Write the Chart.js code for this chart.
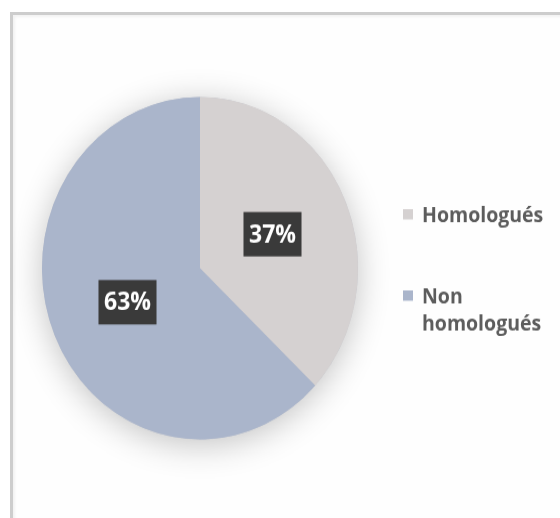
<!DOCTYPE html>
<html>
<head>
<meta charset="utf-8">
<script src="https://cdn.jsdelivr.net/npm/chart.js@4/dist/chart.umd.min.js"></script>
<style>
  html, body { margin: 0; padding: 0; background: #ffffff; }
  body { width: 560px; height: 518px; position: relative; overflow: hidden; }
  #frame {
    position: absolute; left: 10px; top: 12px; width: 600px; height: 560px;
    border-left: 3px solid #cdcdcd; border-top: 3px solid #cdcdcd;
    box-shadow: inset 2px 2px 3px rgba(0,0,0,0.05);
    background: #fefefe;
  }
  #chart { position: absolute; left: 0; top: 0; width: 560px; height: 518px; }
</style>
</head>
<body>
<div id="frame"></div>
<canvas id="chart" width="560" height="478" style="width:560px;height:518px"></canvas>
<script>
// Share of approved vs. non-approved items
const categories = [['Homologués'], ['Non', 'homologués']];
const shares = [37, 63];
const sliceColors = ['#d5d1d1', '#aab5cb'];

// Soft shadow under the whole pie
const pieShadow = {
  id: 'pieShadow',
  beforeDatasetsDraw(chart) {
    const arc = chart.getDatasetMeta(0).data[0];
    if (!arc) return;
    const { x, y, outerRadius } = arc.getProps(['x', 'y', 'outerRadius'], true);
    const ctx = chart.ctx;
    ctx.save();
    ctx.shadowColor = 'rgba(0,0,0,0.24)';
    ctx.shadowBlur = 32;
    ctx.shadowOffsetY = 5;
    ctx.beginPath();
    ctx.arc(x, y, outerRadius, 0, Math.PI * 2);
    ctx.fillStyle = '#c0c3cc';
    ctx.fill();
    ctx.restore();
  }
};

// Percentage tags in dark boxes at each slice centre
const valueTags = {
  id: 'valueTags',
  afterDatasetsDraw(chart) {
    const ctx = chart.ctx;
    const meta = chart.getDatasetMeta(0);
    const values = chart.data.datasets[0].data;
    ctx.save();
    ctx.font = 'bold 23px "Open Sans", sans-serif';
    ctx.textAlign = 'center';
    ctx.textBaseline = 'middle';
    meta.data.forEach((arc, i) => {
      const c = arc.getCenterPoint();
      const txt = values[i] + '%';
      const w = ctx.measureText(txt).width + 11;
      const h = 41;
      ctx.fillStyle = '#3a3a3a';
      ctx.fillRect(c.x - w / 2, c.y - h / 2, w, h);
      ctx.fillStyle = '#ffffff';
      ctx.fillText(txt, c.x, c.y + 1);
    });
    ctx.restore();
  }
};

// Legend on the right with wrapped labels
const sideLegend = {
  id: 'sideLegend',
  afterDraw(chart) {
    const ctx = chart.ctx;
    const labels = chart.data.labels;
    const colors = chart.data.datasets[0].backgroundColor;
    const boxX = 403, textX = 422, firstBaseline = 205, lineH = 25, itemGap = 75;
    ctx.save();
    ctx.font = 'bold 19.5px "Open Sans", sans-serif';
    ctx.textAlign = 'left';
    ctx.textBaseline = 'alphabetic';
    let base = firstBaseline;
    labels.forEach((lines, i) => {
      ctx.fillStyle = colors[i];
      ctx.fillRect(boxX, base - 12, 10, 9.5);
      ctx.fillStyle = '#5c5c5c';
      lines.forEach((ln, j) => ctx.fillText(ln, textX, base + j * lineH));
      base += itemGap;
    });
    ctx.restore();
  }
};

new Chart(document.getElementById('chart'), {
  type: 'pie',
  data: {
    labels: categories,
    datasets: [{
      data: shares,
      backgroundColor: sliceColors,
      borderWidth: 0
    }]
  },
  options: {
    responsive: false,
    animation: false,
    layout: { padding: { left: 42, right: 202, top: 89.5, bottom: 72.5 } },
    plugins: {
      legend: { display: false },
      tooltip: { enabled: false }
    }
  },
  plugins: [pieShadow, valueTags, sideLegend]
});
</script>
</body>
</html>
